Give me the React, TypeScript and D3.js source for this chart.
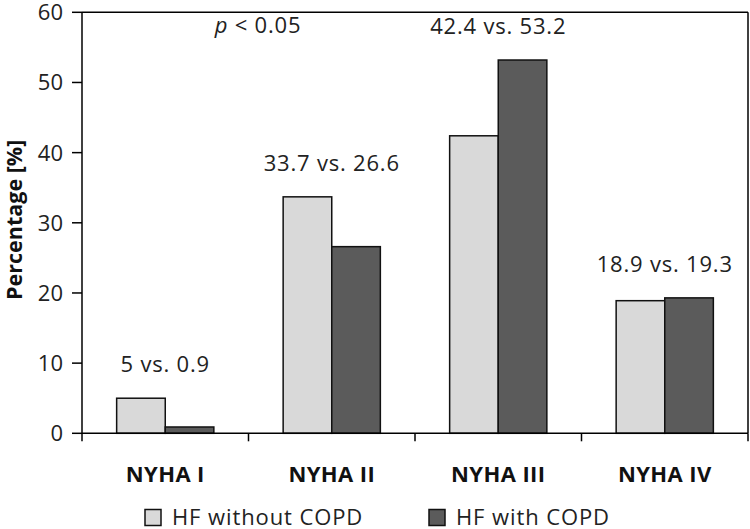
import React from "react";
import * as d3 from "d3";

const categories = ["NYHA I", "NYHA II", "NYHA III", "NYHA IV"];
const seriesNames = ["HF without COPD", "HF with COPD"];
const withoutCOPD = [5, 33.7, 42.4, 18.9];
const withCOPD = [0.9, 26.6, 53.2, 19.3];
const valueLabels = ["5 vs. 0.9", "33.7 vs. 26.6", "42.4 vs. 53.2", "18.9 vs. 19.3"];
const yTicks = [0, 10, 20, 30, 40, 50, 60];
const colors = ["#d9d9d9", "#5b5b5b"];

const FONT = "'Open Sans', 'Noto Sans', sans-serif";

export default function App() {
  const W = 750, H = 529;
  const left = 82, right = 748, top = 12.3, bottom = 433.3;
  const x = d3.scaleBand<string>().domain(categories).range([left, right]).paddingInner(0).paddingOuter(0);
  const inner = d3.scaleBand<string>().domain(seriesNames).range([0, x.bandwidth()]).paddingInner(0).paddingOuter(0.713);
  const y = d3.scaleLinear().domain([0, 60]).range([bottom, top]);
  const series = [withoutCOPD, withCOPD];

  return (
    <svg width={W} height={H} style={{ position: "absolute", left: 0, top: 0, background: "#fff" }} fontFamily={FONT}>
      {/* frame */}
      <line x1={left} x2={right} y1={top} y2={top} stroke="#000" strokeWidth={1.5} />
      <line x1={right} x2={right} y1={top} y2={bottom} stroke="#000" strokeWidth={1.5} />
      {/* bars */}
      {categories.map((c, i) =>
        series.map((s, j) => (
          <rect
            key={c + j}
            x={(x(c) as number) + (inner(seriesNames[j]) as number)}
            y={y(s[i])}
            width={inner.bandwidth()}
            height={bottom - y(s[i])}
            fill={colors[j]}
            stroke="#111"
            strokeWidth={1.5}
          />
        ))
      )}
      {/* y axis */}
      <line x1={left} x2={left} y1={top} y2={bottom} stroke="#000" strokeWidth={1.5} />
      {yTicks.map((t) => (
        <g key={t}>
          <line x1={left - 10} x2={left} y1={y(t)} y2={y(t)} stroke="#000" strokeWidth={1.5} />
          <text x={left - 19} y={y(t)} dy="0.36em" textAnchor="end" fontSize={22} fill="#222">
            {t}
          </text>
        </g>
      ))}
      {/* x axis */}
      <line x1={left} x2={right} y1={bottom} y2={bottom} stroke="#000" strokeWidth={1.5} />
      {categories.map((c, i) => (
        <line key={"t" + i} x1={x(c) as number} x2={x(c) as number} y1={bottom} y2={bottom + 8} stroke="#000" strokeWidth={1.5} />
      ))}
      <line x1={right} x2={right} y1={bottom} y2={bottom + 8} stroke="#000" strokeWidth={1.5} />
      {categories.map((c) => (
        <text key={"c" + c} x={(x(c) as number) + x.bandwidth() / 2} y={482} textAnchor="middle" fontSize={22} fontWeight="bold" letterSpacing={0.4} fill="#111">
          {c}
        </text>
      ))}
      {/* value labels */}
      {categories.map((c, i) => (
        <text key={"v" + c} x={(x(c) as number) + x.bandwidth() / 2} y={y(Math.max(withoutCOPD[i], withCOPD[i])) - 26} textAnchor="middle" fontSize={22} letterSpacing={0.8} fill="#222">
          {valueLabels[i]}
        </text>
      ))}
      <text x={258} y={33} textAnchor="middle" fontSize={22} letterSpacing={0.8} fill="#222">
        <tspan fontStyle="italic">p</tspan> &lt; 0.05
      </text>
      {/* y title */}
      <text transform={`translate(22,${(top + bottom) / 2 - 3}) rotate(-90)`} textAnchor="middle" fontSize={21.5} fontWeight="bold" fill="#111">
        Percentage [%]
      </text>
      {/* legend */}
      {seriesNames.map((n, j) => {
        const lx = [145, 429][j];
        return (
          <g key={n}>
            <rect x={lx} y={509.5} width={16} height={16} fill={colors[j]} stroke="#111" strokeWidth={1.5} />
            <text x={lx + 27} y={525} fontSize={22} letterSpacing={0.9} fill="#222">
              {n}
            </text>
          </g>
        );
      })}
    </svg>
  );
}
